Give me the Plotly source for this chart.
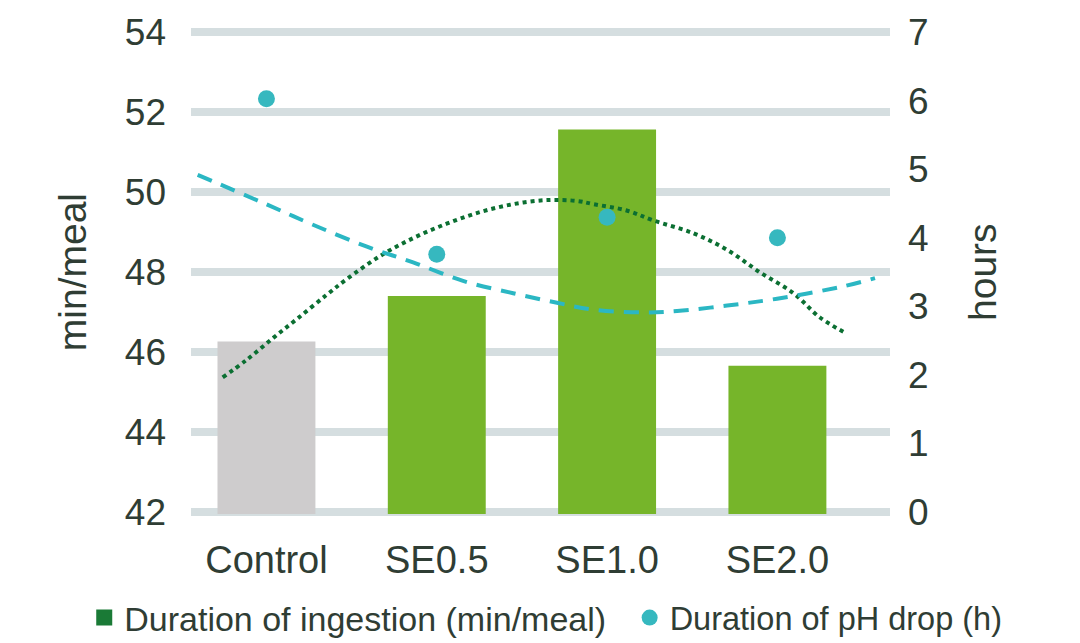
import plotly.graph_objects as go

categories = ["Control", "SE0.5", "SE1.0", "SE2.0"]
ingestion_min_per_meal = [46.26, 47.40, 51.57, 45.65]
ph_drop_hours = [6.03, 3.76, 4.30, 4.00]
bar_colors = ["#CECCCD", "#76B52A", "#76B52A", "#76B52A"]

# Trend curves as drawn in the chart
ingestion_trend_x = [-0.257, -0.116, 0.040, 0.178, 0.354, 0.471, 0.667, 0.862, 1.058, 1.254,
                     1.450, 1.646, 1.822, 1.919, 2.115, 2.272, 2.506, 2.703, 2.898, 3.094,
                     3.250, 3.397]
ingestion_trend_y = [45.36, 45.80, 46.35, 46.82, 47.43, 47.82, 48.40, 48.85, 49.21, 49.50,
                     49.70, 49.80, 49.78, 49.70, 49.54, 49.29, 48.97, 48.56, 47.99, 47.47,
                     46.86, 46.48]
ph_trend_x = [-0.404, -0.020, 0.273, 0.590, 0.861, 1.154, 1.448, 1.706, 1.918, 2.211,
              2.411, 2.705, 2.998, 3.385, 3.573]
ph_trend_y = [4.92, 4.51, 4.19, 3.87, 3.64, 3.37, 3.19, 3.05, 2.95, 2.91,
              2.93, 3.01, 3.11, 3.29, 3.41]

left_ticks = [42, 44, 46, 48, 50, 52, 54]
right_ticks = [0, 1, 2, 3, 4, 5, 6, 7]

text_color = "#2F3D34"
font_family = "Liberation Sans, Arial, sans-serif"
x_pos = list(range(len(categories)))

fig = go.Figure()

fig.add_trace(go.Bar(
    x=x_pos, y=ingestion_min_per_meal,
    marker=dict(color=bar_colors, line=dict(width=0)),
    width=0.575, showlegend=False, yaxis="y", hoverinfo="skip",
))

fig.add_trace(go.Scatter(
    x=ingestion_trend_x, y=ingestion_trend_y, mode="lines",
    line=dict(color="#0B6F32", width=4, dash="dot", shape="spline"),
    showlegend=False, yaxis="y", hoverinfo="skip",
))

fig.add_trace(go.Scatter(
    x=ph_trend_x, y=ph_trend_y, mode="lines",
    line=dict(color="#2BB7C3", width=4, dash="15px,10px", shape="spline"),
    showlegend=False, yaxis="y2", hoverinfo="skip",
))

fig.add_trace(go.Scatter(
    x=x_pos, y=ph_drop_hours, mode="markers",
    marker=dict(color="#36B8BF", size=17),
    showlegend=False, yaxis="y2",
))

# legend entries
fig.add_trace(go.Scatter(
    x=[None], y=[None], mode="markers",
    marker=dict(color="#1A7A36", size=18, symbol="square"),
    name="Duration of ingestion (min/meal)", yaxis="y", legend="legend",
))
fig.add_trace(go.Scatter(
    x=[None], y=[None], mode="markers",
    marker=dict(color="#36B8BF", size=17, symbol="circle"),
    name="Duration of pH drop (h)", yaxis="y2", legend="legend2",
))

legend_common = dict(
    orientation="h", xref="container", xanchor="left",
    yref="container", y=0.039, yanchor="middle", bgcolor="rgba(0,0,0,0)",
)

fig.update_layout(
    width=1080, height=643,
    margin=dict(l=191, r=190, t=30, b=129, autoexpand=False),
    paper_bgcolor="white", plot_bgcolor="white",
    font=dict(family=font_family, color=text_color),
    barmode="overlay",
    xaxis=dict(
        range=[-0.443, 3.661], tickvals=x_pos, ticktext=categories,
        showgrid=False, zeroline=False, showline=False, ticks="",
        tickfont=dict(size=38, color=text_color), ticklabelstandoff=20,
        automargin=False, tickangle=0,
    ),
    yaxis=dict(
        range=[41.94, 54.06], tickvals=left_ticks, showgrid=True,
        gridcolor="#D5DEE0", gridwidth=8, zeroline=False, showline=False,
        ticks="", tickfont=dict(size=37, color=text_color), ticklabelstandoff=24,
        automargin=False,
    ),
    yaxis2=dict(
        range=[-0.035, 7.035], tickvals=right_ticks, overlaying="y", side="right",
        showgrid=False, zeroline=False, showline=False, ticks="",
        tickfont=dict(size=37, color=text_color), ticklabelstandoff=17,
        automargin=False,
    ),
    legend=dict(x=0.078, font=dict(size=34, color=text_color), **legend_common),
    legend2=dict(x=0.583, font=dict(size=32.5, color=text_color), **legend_common),
    annotations=[
        dict(text="min/meal", x=-0.170, y=0.5, xref="paper", yref="paper",
             textangle=-90, showarrow=False, xanchor="center", yanchor="middle",
             font=dict(size=39, color=text_color)),
        dict(text="hours", x=1.1316, y=0.5, xref="paper", yref="paper",
             textangle=-90, showarrow=False, xanchor="center", yanchor="middle",
             font=dict(size=39, color=text_color)),
    ],
)

fig.write_html("out.html", config={"displayModeBar": False},
               post_script="document.body.style.margin='0';")
